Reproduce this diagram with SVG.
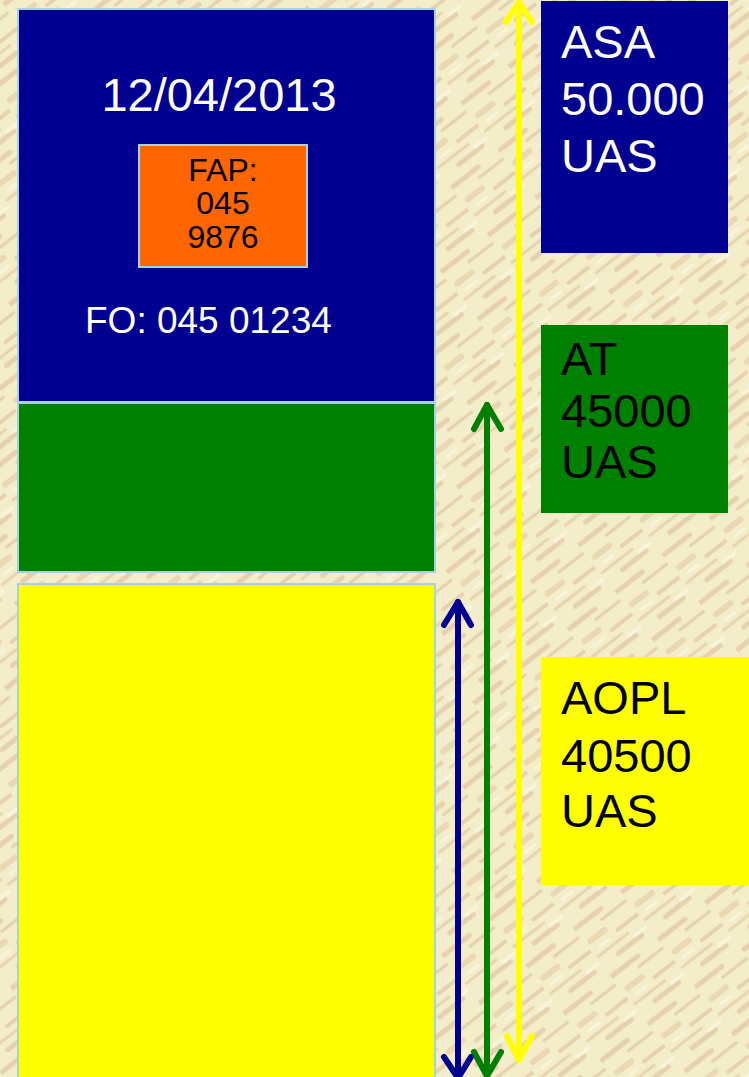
<svg xmlns="http://www.w3.org/2000/svg" width="749" height="1077" viewBox="0 0 749 1077">
  <defs>
    <pattern id="tex" width="60" height="60" patternUnits="userSpaceOnUse" patternTransform="rotate(-38)">
      <rect width="60" height="60" fill="#F4EDCA"/>
      <line x1="0" y1="6" x2="34" y2="6" stroke="#E2C9A2" stroke-width="5" stroke-linecap="round" opacity="0.75"/>
      <line x1="28" y1="15" x2="58" y2="15" stroke="#D9BE98" stroke-width="3" stroke-linecap="round" opacity="0.6"/>
      <line x1="6" y1="25" x2="24" y2="25" stroke="#E8D3AE" stroke-width="6" stroke-linecap="round" opacity="0.8"/>
      <line x1="34" y1="33" x2="60" y2="33" stroke="#DDBF9C" stroke-width="4" stroke-linecap="round" opacity="0.6"/>
      <line x1="2" y1="42" x2="40" y2="42" stroke="#E4CBA6" stroke-width="3" stroke-linecap="round" opacity="0.75"/>
      <line x1="20" y1="52" x2="50" y2="52" stroke="#D8BA96" stroke-width="5" stroke-linecap="round" opacity="0.55"/>
      <line x1="44" y1="48" x2="58" y2="48" stroke="#FAF6DC" stroke-width="4" stroke-linecap="round" opacity="0.9"/>
      <line x1="10" y1="35" x2="22" y2="35" stroke="#FAF6DC" stroke-width="3" stroke-linecap="round" opacity="0.9"/>
    </pattern>
  </defs>
  <style>
    .box { stroke: #A6D2E2; stroke-width: 2; }
    .plain { stroke: none; }
    .wt { fill: #FFFFFF; font-family: "Liberation Sans", Arial, sans-serif; }
    .bk { fill: #000000; font-family: "Liberation Sans", Arial, sans-serif; }
    .big { font-size: 47px; }
    .mid { font-size: 37px; }
    .sm { font-size: 32px; }
    .arr { fill: none; stroke-width: 6; stroke-linecap: round; stroke-linejoin: round; }
  </style>
  <rect width="749" height="1077" fill="url(#tex)"/>

  <g id="block-blue">
    <rect class="box" x="18" y="9" width="417" height="393" fill="#000090"/>
    <text class="wt big" x="219" y="111" text-anchor="middle">12/04/2013</text>
    <text class="wt mid" x="85" y="333">FO: 045 01234</text>
  </g>
  <g id="block-fap">
    <rect class="box" x="139" y="145" width="168" height="122" fill="#FF6600"/>
    <text class="bk sm" x="223" y="181" text-anchor="middle">FAP:</text>
    <text class="bk sm" x="223" y="214" text-anchor="middle">045</text>
    <text class="bk sm" x="223" y="248" text-anchor="middle">9876</text>
  </g>
  <g id="block-green">
    <rect class="box" x="18" y="403" width="417" height="169" fill="#008000"/>
  </g>
  <g id="block-yellow">
    <rect class="box" x="18" y="584" width="417" height="500" fill="#FFFF00"/>
  </g>

  <g id="label-asa">
    <rect class="plain" x="541" y="1" width="187" height="252" fill="#000090"/>
    <text class="wt big" x="561" y="58">ASA</text>
    <text class="wt big" x="561" y="115">50.000</text>
    <text class="wt big" x="561" y="172">UAS</text>
  </g>
  <g id="label-at">
    <rect class="plain" x="541" y="325" width="187" height="188" fill="#008000"/>
    <text class="bk big" x="561" y="375">AT</text>
    <text class="bk big" x="561" y="427">45000</text>
    <text class="bk big" x="561" y="478">UAS</text>
  </g>
  <g id="label-aopl">
    <rect class="plain" x="541" y="657" width="210" height="228" fill="#FFFF00"/>
    <text class="bk big" x="561" y="714">AOPL</text>
    <text class="bk big" x="561" y="772">40500</text>
    <text class="bk big" x="561" y="827">UAS</text>
  </g>

  <g id="connectors">
    <g stroke="#FFFF00" class="arr">
      <line x1="519" y1="2" x2="519" y2="1060"/>
      <polyline points="506,22 519,2 532,22"/>
      <polyline points="507,1036 519,1060 532,1036"/>
    </g>
    <g stroke="#008000" class="arr">
      <line x1="487" y1="405" x2="487" y2="1076"/>
      <polyline points="474,429 487,405 501,429"/>
      <polyline points="474,1052 487,1076 501,1052"/>
    </g>
    <g stroke="#000090" class="arr">
      <line x1="458" y1="602" x2="458" y2="1078"/>
      <polyline points="444,625 458,602 471,625"/>
      <polyline points="444,1057 458,1078 471,1057"/>
    </g>
  </g>
</svg>
